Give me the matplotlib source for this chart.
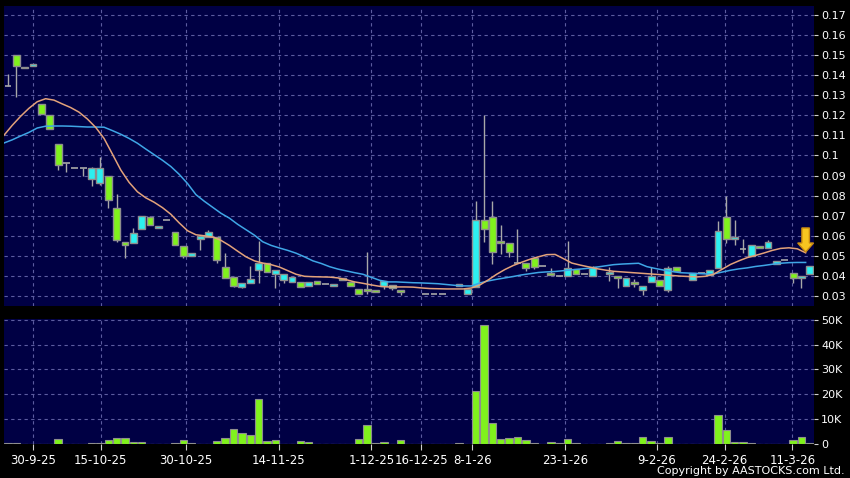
import numpy as np
import matplotlib
matplotlib.use("Agg")
import matplotlib.pyplot as plt
from matplotlib.patches import Rectangle, Polygon

nan = np.nan

# ---- data (price in HKD, volume in thousands) ----
opens = [0.1345, 0.1500, 0.1435, 0.1444, 0.1255, 0.1200, 0.1055, 0.0965, 0.0937, 0.0937,
         0.0885, 0.0865, 0.0900, 0.0740, 0.0570, 0.0565, 0.0635, 0.0695, 0.0640, 0.0680,
         0.0620, 0.0550, 0.0500, 0.0585, 0.0595, 0.0595, 0.0445, 0.0395, 0.0345, 0.0365,
         0.0430, 0.0465, 0.0410, 0.0380, 0.0370, 0.0370, 0.0350, 0.0375, 0.0360, 0.0350,
         0.0390, 0.0370, 0.0335, 0.0330, 0.0323, 0.0350, 0.0340, 0.0322, nan, nan,
         0.0310, 0.0310, 0.0310, nan, 0.0350, 0.0310, 0.0345, 0.0680, 0.0695, 0.0570,
         0.0565, 0.0465, 0.0465, 0.0490, 0.0450, 0.0415, 0.0400, 0.0400, 0.0435, 0.0410,
         0.0400, nan, 0.0410, 0.0400, 0.0350, 0.0367, 0.0330, 0.0370, 0.0380, 0.0330,
         0.0445, nan, 0.0380, 0.0415, 0.0405, 0.0440, 0.0695, 0.0585, 0.0535, 0.0500,
         0.0550, 0.0540, 0.0460, 0.0478, 0.0415, 0.0390, 0.0410]
highs = [0.1405, 0.1500, 0.1440, 0.1454, 0.1255, 0.1200, 0.1055, 0.0965, 0.0937, 0.0937,
         0.0945, 0.0993, 0.0900, 0.0810, 0.0570, 0.0640, 0.0700, 0.0700, 0.0650, 0.0680,
         0.0620, 0.0550, 0.0515, 0.0600, 0.0630, 0.0595, 0.0515, 0.0395, 0.0365, 0.0450,
         0.0575, 0.0465, 0.0430, 0.0410, 0.0395, 0.0370, 0.0370, 0.0375, 0.0360, 0.0360,
         0.0390, 0.0370, 0.0335, 0.0520, 0.0323, 0.0375, 0.0355, 0.0322, nan, nan,
         0.0310, 0.0310, 0.0310, nan, 0.0360, 0.0335, 0.0775, 0.1200, 0.0775, 0.0655,
         0.0565, 0.0635, 0.0465, 0.0495, 0.0450, 0.0440, 0.0400, 0.0575, 0.0435, 0.0410,
         0.0450, nan, 0.0445, 0.0400, 0.0390, 0.0385, 0.0350, 0.0445, 0.0380, 0.0450,
         0.0445, nan, 0.0415, 0.0415, 0.0430, 0.0675, 0.0800, 0.0680, 0.0585, 0.0555,
         0.0550, 0.0580, 0.0475, 0.0478, 0.0415, 0.0395, 0.0450]
lows = [0.1345, 0.1290, 0.1435, 0.1444, 0.1205, 0.1130, 0.0930, 0.0920, 0.0937, 0.0900,
        0.0848, 0.0855, 0.0740, 0.0570, 0.0490, 0.0565, 0.0635, 0.0655, 0.0640, 0.0680,
        0.0555, 0.0490, 0.0500, 0.0530, 0.0595, 0.0466, 0.0390, 0.0345, 0.0340, 0.0365,
        0.0365, 0.0420, 0.0340, 0.0365, 0.0370, 0.0345, 0.0350, 0.0360, 0.0360, 0.0350,
        0.0380, 0.0350, 0.0310, 0.0310, 0.0320, 0.0335, 0.0328, 0.0305, nan, nan,
        0.0310, 0.0310, 0.0310, nan, 0.0350, 0.0310, 0.0345, 0.0570, 0.0460, 0.0510,
        0.0495, 0.0465, 0.0425, 0.0435, 0.0450, 0.0405, 0.0400, 0.0400, 0.0410, 0.0410,
        0.0400, nan, 0.0375, 0.0340, 0.0350, 0.0345, 0.0305, 0.0370, 0.0350, 0.0320,
        0.0425, nan, 0.0380, 0.0415, 0.0405, 0.0440, 0.0565, 0.0555, 0.0515, 0.0500,
        0.0540, 0.0540, 0.0460, 0.0478, 0.0365, 0.0340, 0.0410]
closes = [0.1345, 0.1446, 0.1440, 0.1454, 0.1205, 0.1130, 0.0955, 0.0965, 0.0937, 0.0937,
          0.0937, 0.0937, 0.0780, 0.0580, 0.0555, 0.0615, 0.0700, 0.0655, 0.0650, 0.0680,
          0.0555, 0.0500, 0.0515, 0.0600, 0.0620, 0.0480, 0.0390, 0.0350, 0.0365, 0.0385,
          0.0465, 0.0420, 0.0430, 0.0410, 0.0395, 0.0345, 0.0370, 0.0360, 0.0360, 0.0360,
          0.0380, 0.0350, 0.0310, 0.0325, 0.0320, 0.0375, 0.0355, 0.0320, nan, nan,
          0.0310, 0.0310, 0.0310, nan, 0.0360, 0.0335, 0.0680, 0.0635, 0.0520, 0.0565,
          0.0520, 0.0465, 0.0440, 0.0445, 0.0450, 0.0405, 0.0400, 0.0440, 0.0410, 0.0410,
          0.0445, nan, 0.0420, 0.0390, 0.0390, 0.0360, 0.0350, 0.0400, 0.0350, 0.0440,
          0.0425, nan, 0.0415, 0.0415, 0.0430, 0.0625, 0.0585, 0.0590, 0.0535, 0.0555,
          0.0540, 0.0570, 0.0475, 0.0478, 0.0390, 0.0395, 0.0450]
volume_k = [0.4, 0.4, 0.1, 0.1, 0.1, 0.1, 2.0, 0.1, 0.1, 0.1,
            0.3, 0.3, 1.8, 2.4, 2.6, 0.9, 0.9, 0.1, 0.1, 0.1,
            0.3, 1.6, 0.5, 0.1, 0.1, 1.1, 2.6, 5.9, 4.5, 3.5,
            18.2, 1.4, 1.6, 0.1, 0.1, 1.2, 0.7, 0.1, 0.1, 0.1,
            0.1, 0.1, 2.2, 7.8, 0.3, 0.8, 0.1, 1.5, 0.0, 0.0,
            0.1, 0.0, 0.0, 0.0, 0.4, 0.1, 21.2, 48.0, 8.4, 2.0,
            2.6, 3.0, 1.6, 0.5, 0.1, 0.9, 0.4, 2.2, 0.4, 0.1,
            0.1, 0.0, 0.5, 1.2, 0.3, 0.5, 2.7, 1.4, 0.5, 2.7,
            0.1, 0.0, 0.1, 0.1, 0.1, 11.6, 5.7, 0.8, 0.7, 0.5,
            0.1, 0.1, 0.1, 0.1, 1.6, 3.0, 0.4]
# moving averages, sampled half a bar before each bar
ma_short = [0.1100, 0.1150, 0.1195, 0.1235, 0.1268, 0.1283, 0.1276, 0.1257, 0.1239, 0.1216,
            0.1182, 0.1140, 0.1085, 0.1007, 0.0928, 0.0866, 0.0819, 0.0789, 0.0767, 0.0740,
            0.0707, 0.0664, 0.0625, 0.0605, 0.0600, 0.0594, 0.0577, 0.0552, 0.0523, 0.0495,
            0.0475, 0.0464, 0.0456, 0.0444, 0.0426, 0.0408, 0.0398, 0.0396, 0.0395, 0.0394,
            0.0390, 0.0381, 0.0370, 0.0363, 0.0355, 0.0348, 0.0345, 0.0345, 0.0345, 0.0344,
            0.0340, 0.0337, 0.0336, 0.0335, 0.0335, 0.0335, 0.0340, 0.0355, 0.0380, 0.0408,
            0.0432, 0.0452, 0.0468, 0.0483, 0.0495, 0.0506, 0.0507, 0.0486, 0.0464, 0.0454,
            0.0445, 0.0436, 0.0429, 0.0423, 0.0420, 0.0417, 0.0414, 0.0411, 0.0408, 0.0405,
            0.0402, 0.0399, 0.0397, 0.0395, 0.0398, 0.0409, 0.0433, 0.0457, 0.0475, 0.0491,
            0.0502, 0.0514, 0.0527, 0.0537, 0.0540, 0.0535, 0.0515]
ma_long = [0.1062, 0.1078, 0.1097, 0.1115, 0.1137, 0.1146, 0.1147, 0.1147, 0.1146, 0.1144,
           0.1142, 0.1142, 0.1141, 0.1124, 0.1106, 0.1085, 0.1061, 0.1032, 0.1004, 0.0976,
           0.0945, 0.0906, 0.0860, 0.0805, 0.0772, 0.0742, 0.0712, 0.0688, 0.0657, 0.0630,
           0.0603, 0.0570, 0.0552, 0.0539, 0.0527, 0.0513, 0.0495, 0.0475, 0.0462, 0.0446,
           0.0434, 0.0425, 0.0416, 0.0408, 0.0393, 0.0378, 0.0370, 0.0370, 0.0368, 0.0366,
           0.0365, 0.0363, 0.0361, 0.0357, 0.0353, 0.0350, 0.0350, 0.0365, 0.0375, 0.0383,
           0.0390, 0.0397, 0.0405, 0.0411, 0.0417, 0.0420, 0.0422, 0.0426, 0.0430, 0.0434,
           0.0438, 0.0444, 0.0450, 0.0456, 0.0459, 0.0461, 0.0463, 0.0446, 0.0437, 0.0429,
           0.0422, 0.0416, 0.0414, 0.0412, 0.0410, 0.0410, 0.0419, 0.0428, 0.0435, 0.0440,
           0.0447, 0.0452, 0.0458, 0.0463, 0.0466, 0.0467, 0.0467]
tick_labels = ["30-9-25", "15-10-25", "30-10-25", "14-11-25", "1-12-25", "16-12-25",
               "8-1-26", "23-1-26", "9-2-26", "24-2-26", "11-3-26"]
tick_pos = [3.0, 11.1, 21.3, 32.4, 43.5, 49.5, 55.6, 66.7, 77.7, 85.8, 93.9]
price_ticks = [0.03, 0.04, 0.05, 0.06, 0.07, 0.08, 0.09, 0.10, 0.11, 0.12, 0.13, 0.14, 0.15, 0.16, 0.17]
vol_ticks_k = [0, 10, 20, 30, 40, 50]

# ---- styling ----
BG = "#000044"
UP = "#2CF0F0"
DOWN = "#80F21C"
EDGE = "#8E8E8E"
WICK = "#A8A8A8"
GRID = "#5C5CA0"
W, H = 850, 478

fig = plt.figure(figsize=(W / 100, H / 100), dpi=100, facecolor="black")
axp = fig.add_axes([4 / W, 1 - 306 / H, 810 / W, 300 / H], facecolor=BG)
axv = fig.add_axes([4 / W, 1 - 444 / H, 810 / W, 125 / H], facecolor=BG)

n = len(closes)
idx = np.arange(n)
xlim = (-0.48, 96.5)
bw = 0.82

for ax in (axp, axv):
    ax.set_xlim(*xlim)
    for s in ax.spines.values():
        s.set_visible(False)
    ax.yaxis.tick_right()
    ax.tick_params(axis="y", colors="#D0D0D0", labelcolor="white", length=3, width=0.8,
                   labelsize=8, pad=2)
    ax.set_xticks(tick_pos)
    ax.grid(True, color=GRID, linestyle=(0, (3, 3)), linewidth=0.8)
    ax.set_axisbelow(True)

# price panel
axp.set_ylim(0.0250, 0.1745)
axp.set_yticks(price_ticks)
axp.set_yticklabels([("%.2f" % v).rstrip("0") for v in price_ticks])
axp.tick_params(axis="x", length=0, labelbottom=False)

for i in range(n):
    o, h, l, c = opens[i], highs[i], lows[i], closes[i]
    if np.isnan(o):
        continue
    if h > l:
        axp.vlines(i, l, h, color=WICK, linewidth=1.0, zorder=2)
    if c == o:
        axp.hlines(c, i - bw / 2, i + bw / 2, color=WICK, linewidth=1.2, zorder=3)
    else:
        col = UP if c > o else DOWN
        lo = min(o, c)
        ht = max(abs(c - o), 0.0008)
        axp.add_patch(Rectangle((i - bw / 2, lo), bw, ht, facecolor=col, edgecolor=EDGE,
                                linewidth=1.0, zorder=3))

ma_x = idx - 0.5
axp.plot(ma_x, ma_long, color="#3FA6E6", linewidth=1.1, zorder=4)
axp.plot(ma_x, ma_short, color="#E3A27A", linewidth=1.1, zorder=4)

# arrow marker pointing at the end of the short moving average
tip_x = ma_x[-1]
tip_y = ma_short[-1] + 0.0004
hw, sw = 0.95, 0.45
head_len, total = 0.0045, 0.0120
arrow = Polygon([(tip_x, tip_y), (tip_x - hw, tip_y + head_len), (tip_x - sw, tip_y + head_len),
                 (tip_x - sw, tip_y + total), (tip_x + sw, tip_y + total),
                 (tip_x + sw, tip_y + head_len), (tip_x + hw, tip_y + head_len)],
                closed=True, facecolor="#F7C520", edgecolor="#C98A10", linewidth=1.0, zorder=6)
axp.add_patch(arrow)

# volume panel
vol = np.array(volume_k) * 1000
axv.bar(idx, vol, width=0.88, color=DOWN, edgecolor=EDGE, linewidth=0.8, zorder=3)
axv.set_ylim(0, 50300)
axv.set_yticks([v * 1000 for v in vol_ticks_k])
axv.set_yticklabels(["0" if v == 0 else "%dK" % v for v in vol_ticks_k])
axv.set_xticklabels(tick_labels)
axv.tick_params(axis="x", colors="#D0D0D0", labelcolor="white", length=4, width=0.8,
                labelsize=8.5, pad=3)

fig.text(845 / W, 1 - 471 / H, "Copyright by AASTOCKS.com Ltd.", color="white",
         fontsize=8, ha="right", va="center")

fig.savefig("out.png", dpi=100, facecolor="black")
